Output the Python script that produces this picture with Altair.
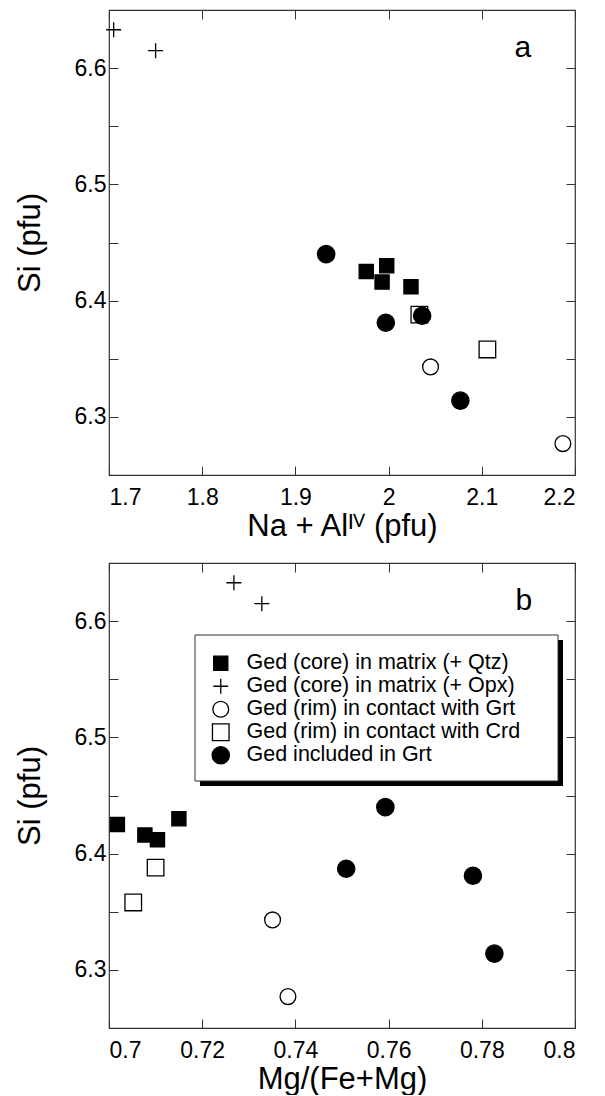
import altair as alt
import pandas as pd

groups = [
    "Ged (core) in matrix (+ Qtz)",
    "Ged (core) in matrix (+ Opx)",
    "Ged (rim) in contact with Grt",
    "Ged (rim) in contact with Crd",
    "Ged included in Grt",
]

sample_group = [groups[0]] * 4 + [groups[1]] * 2 + [groups[2]] * 2 + [groups[3]] * 2 + [groups[4]] * 4
na_al = [1.976, 1.998, 1.993, 2.024, 1.705, 1.750, 2.045, 2.187, 2.033, 2.106, 1.933, 2.036, 1.997, 2.077]
mg_num = [0.7018, 0.7150, 0.7077, 0.7104, 0.7268, 0.7328, 0.7351, 0.7384, 0.7100, 0.7052, 0.7593, 0.7509, 0.7781, 0.7827]
si = [6.425, 6.430, 6.416, 6.412, 6.633, 6.615, 6.343, 6.277, 6.388, 6.358, 6.440, 6.387, 6.381, 6.314]

x_ticks_a = [1.7, 1.8, 1.9, 2.0, 2.1, 2.2]
x_ticks_b = [0.7, 0.72, 0.74, 0.76, 0.78, 0.8]
y_ticks = [6.3, 6.35, 6.4, 6.45, 6.5, 6.55, 6.6]

FONT = "Liberation Sans"
shape_range = ["square", "M-1,0L1,0M0,-1L0,1", "circle", "square", "circle"]
fill_range = ["black", "transparent", "white", "white", "black"]
stroke_range = ["black", "black", "black", "black", "black"]
size_range = [200, 300, 170, 170, 200]
TICK = {"expr": "-9"}


def panel(xvals, xdomain, xticks, xtitle, tag, tag_x, tag_y, with_legend):
    df = pd.DataFrame({"x": xvals, "si": si, "grp": sample_group})
    xs = alt.Scale(domain=xdomain, nice=False, zero=False)
    ys = alt.Scale(domain=[6.25, 6.65], nice=False, zero=False)
    if with_legend:
        leg = alt.Legend(
            title=None, orient="none", legendX=101, legendY=89.5, padding=0,
            labelFont=FONT, labelFontSize=21.5, labelColor="black", labelLimit=500,
            labelOffset=15, rowPadding=0, symbolStrokeColor="black",
            symbolStrokeWidth=1.3, zindex=1,
        )
    else:
        leg = None
    points = alt.Chart(df).mark_point(filled=True, strokeWidth=1.3, opacity=1).encode(
        x=alt.X("x:Q", scale=xs, axis=alt.Axis(
            orient="bottom", values=xticks, format="~g", title=xtitle, tickSize=TICK,
            labelPadding=20, titlePadding=2)),
        y=alt.Y("si:Q", scale=ys, axis=alt.Axis(
            orient="left", values=y_ticks, format="~g", title="Si (pfu)", tickSize=TICK,
            labelExpr="round(datum.value*100) % 10 == 0 ? datum.label : ''",
            labelPadding=12, titlePadding=28)),
        shape=alt.Shape("grp:N", scale=alt.Scale(domain=groups, range=shape_range), legend=leg),
        fill=alt.Fill("grp:N", scale=alt.Scale(domain=groups, range=fill_range), legend=leg),
        stroke=alt.Stroke("grp:N", scale=alt.Scale(domain=groups, range=stroke_range), legend=leg),
        size=alt.Size("grp:N", scale=alt.Scale(domain=groups, range=size_range), legend=leg),
    )
    tag_df = pd.DataFrame({"x": [tag_x], "si": [tag_y], "t": [tag]})
    tag_layer = alt.Chart(tag_df).mark_text(
        font=FONT, fontSize=30, align="center", baseline="alphabetic", color="black"
    ).encode(
        x=alt.X("x:Q", scale=xs, axis=alt.Axis(orient="top", values=xticks, labels=False,
                                                 title=None, tickSize=TICK)),
        y=alt.Y("si:Q", scale=ys, axis=alt.Axis(orient="right", values=y_ticks, labels=False,
                                                  title=None, tickSize=TICK)),
        text="t:N",
    )
    layers = []
    if with_legend:
        one = pd.DataFrame({"d": [0]})
        shadow = alt.Chart(one).mark_rect(color="black").encode(
            x=alt.value(91), x2=alt.value(454), y=alt.value(77), y2=alt.value(223))
        box = alt.Chart(one).mark_rect(fill="white", stroke="#333", strokeWidth=1).encode(
            x=alt.value(86), x2=alt.value(449), y=alt.value(72), y2=alt.value(218))
        layers = [shadow, box]
    layers += [points, tag_layer]
    return alt.layer(*layers).resolve_axis(x="independent", y="independent").properties(
        width=466, height=465)


top = panel(na_al, [1.7, 2.2], x_ticks_a, "Na + Alᴵⱽ (pfu)", "a", 2.144, 6.61, False)
bottom = panel(mg_num, [0.7, 0.8], x_ticks_b, "Mg/(Fe+Mg)", "b", 0.789, 6.61, True)

chart = alt.vconcat(top, bottom, spacing=19).resolve_scale(
    x="independent", y="independent", shape="independent", fill="independent",
    stroke="independent", size="independent"
).properties(
    padding={"left": 5, "top": 0, "right": 5, "bottom": 0}
).configure_view(
    stroke="#333", strokeWidth=1.2
).configure_axis(
    domain=False, grid=False, tickColor="#333", tickWidth=1,
    labelFont=FONT, labelFontSize=23, labelColor="black",
    titleFont=FONT, titleFontSize=31, titleFontWeight="normal", titleColor="black",
)

chart.save("out.html", embed_options={"renderer": "svg", "actions": False})
